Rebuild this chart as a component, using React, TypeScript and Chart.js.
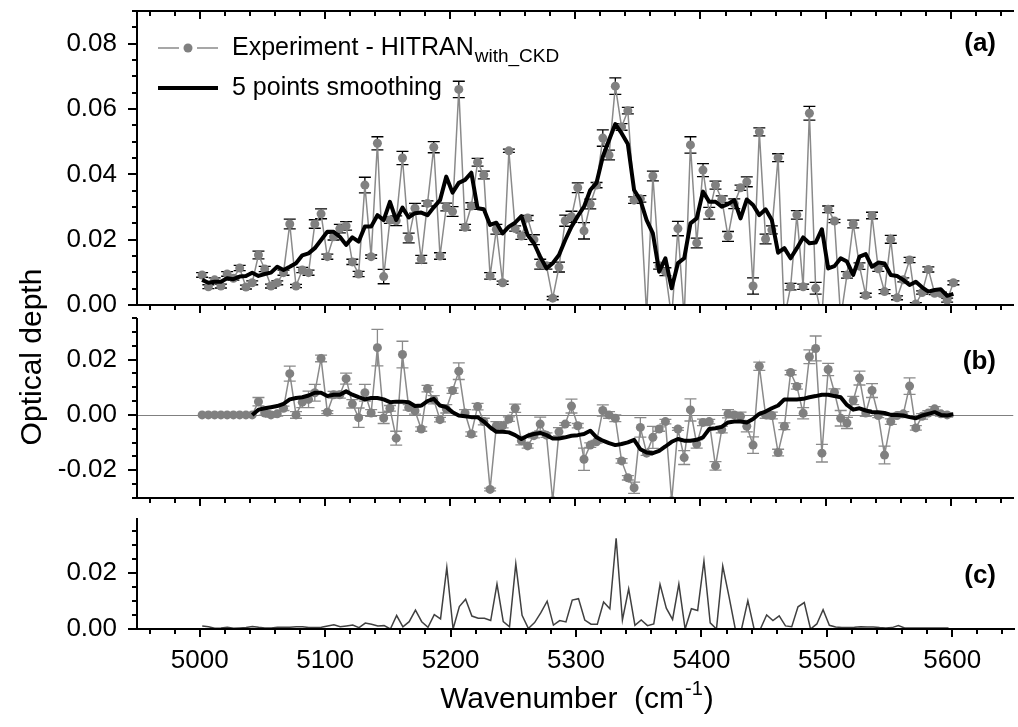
import React, { useEffect, useRef } from 'react';
import { Chart, registerables } from 'chart.js';
Chart.register(...registerables);

const FONT = "'Liberation Sans', Arial, Helvetica, sans-serif";

// ---------------- data ----------------
const WAVENUMBER = [
  5002, 5007, 5012, 5017, 5022, 5027, 5032, 5037, 5042, 5047,
  5052, 5057, 5062, 5067, 5072, 5077, 5082, 5087, 5092, 5097,
  5102, 5107, 5112, 5117, 5122, 5127, 5132, 5137, 5142, 5147,
  5152, 5157, 5162, 5167, 5172, 5177, 5182, 5187, 5192, 5197,
  5202, 5207, 5212, 5217, 5222, 5227, 5232, 5237, 5242, 5247,
  5252, 5257, 5262, 5267, 5272, 5277, 5282, 5287, 5292, 5297,
  5302, 5307, 5312, 5317, 5322, 5327, 5332, 5337, 5342, 5347,
  5352, 5357, 5362, 5367, 5372, 5377, 5382, 5387, 5392, 5397,
  5402, 5407, 5412, 5417, 5422, 5427, 5432, 5437, 5442, 5447,
  5452, 5457, 5462, 5467, 5472, 5477, 5482, 5487, 5492, 5497,
  5502, 5507, 5512, 5517, 5522, 5527, 5532, 5537, 5542, 5547,
  5552, 5557, 5562, 5567, 5572, 5577, 5582, 5587, 5592, 5597,
  5602,
];

// (a) Experiment - HITRAN_with_CKD
const A_EXPERIMENT = [
  0.0092, 0.0056, 0.0077, 0.0058, 0.0095, 0.0082, 0.0113, 0.0055, 0.0068, 0.0153,
  0.0110, 0.0058, 0.0068, 0.0099, 0.0248, 0.0058, 0.0107, 0.0099, 0.0248, 0.0279,
  0.0148, 0.0209, 0.0234, 0.0242, 0.0132, 0.0095, 0.0367, 0.0148, 0.0495, 0.0087,
  0.0260, 0.0258, 0.0450, 0.0205, 0.0296, 0.0140, 0.0311, 0.0483, 0.0150, 0.0300,
  0.0286, 0.0660, 0.0238, 0.0303, 0.0437, 0.0398, 0.0089, 0.0232, 0.0068, 0.0472,
  0.0234, 0.0211, 0.0266, 0.0200, 0.0125, 0.0120, 0.0021, 0.0116, 0.0258, 0.0270,
  0.0359, 0.0227, 0.0309, 0.0367, 0.0511, 0.0459, 0.0670, 0.0545, 0.0595, 0.0321,
  0.0325, -0.0030, 0.0395, 0.0120, 0.0102, -0.0040, 0.0234, -0.0040, 0.0490, 0.0190,
  0.0413, 0.0281, 0.0367, 0.0324, 0.0210, 0.0310, 0.0359, 0.0377, 0.0058, 0.0530,
  0.0202, 0.0230, 0.0451, -0.0040, 0.0056, 0.0276, 0.0056, 0.0587, 0.0051, -0.0040,
  0.0293, 0.0257, -0.0040, 0.0092, 0.0248, 0.0119, 0.0030, 0.0274, 0.0111, 0.0041,
  0.0201, 0.0022, 0.0077, 0.0138, 0.0003, 0.0038, 0.0109, 0.0036, 0.0035, 0.0015,
  0.0068,
];
const A_ERROR = [
  0.0007, 0.0006, 0.0006, 0.0006, 0.0007, 0.0006, 0.0008, 0.0006, 0.0006, 0.0012,
  0.0008, 0.0006, 0.0006, 0.0008, 0.0015, 0.0005, 0.0008, 0.0008, 0.0013, 0.0015,
  0.0008, 0.0010, 0.0013, 0.0013, 0.0008, 0.0008, 0.0024, 0.0005, 0.0020, 0.0022,
  0.0010, 0.0015, 0.0020, 0.0015, 0.0015, 0.0012, 0.0008, 0.0017, 0.0010, 0.0012,
  0.0015, 0.0025, 0.0009, 0.0010, 0.0012, 0.0012, 0.0010, 0.0015, 0.0005, 0.0005,
  0.0008, 0.0010, 0.0008, 0.0015, 0.0015, 0.0010, 0.0005, 0.0015, 0.0017, 0.0017,
  0.0015, 0.0025, 0.0015, 0.0008, 0.0025, 0.0015, 0.0025, 0.0010, 0.0010, 0.0010,
  0.0010, 0.0005, 0.0015, 0.0010, 0.0012, 0.0005, 0.0022, 0.0005, 0.0025, 0.0015,
  0.0020, 0.0018, 0.0012, 0.0010, 0.0015, 0.0015, 0.0008, 0.0015, 0.0025, 0.0012,
  0.0015, 0.0012, 0.0012, 0.0005, 0.0010, 0.0013, 0.0008, 0.0021, 0.0018, 0.0005,
  0.0010, 0.0005, 0.0005, 0.0010, 0.0012, 0.0010, 0.0006, 0.0010, 0.0008, 0.0006,
  0.0012, 0.0006, 0.0006, 0.0008, 0.0004, 0.0005, 0.0008, 0.0004, 0.0004, 0.0006,
  0.0006,
];
// (a) 5 points smoothing
const A_SMOOTH = [
  0.0077, 0.0068, 0.0071, 0.0071, 0.0082, 0.0079, 0.0087, 0.0089, 0.0099, 0.0089,
  0.0095, 0.0099, 0.0117, 0.0107, 0.0117, 0.0128, 0.0152, 0.0158, 0.0174, 0.0199,
  0.0224, 0.0224, 0.0209, 0.0184, 0.0207, 0.0194, 0.0240, 0.0240, 0.0275, 0.0260,
  0.0316, 0.0260, 0.0298, 0.0268, 0.0281, 0.0283, 0.0275, 0.0299, 0.0321, 0.0393,
  0.0344, 0.0374, 0.0383, 0.0405, 0.0296, 0.0293, 0.0245, 0.0252, 0.0219, 0.0240,
  0.0252, 0.0272, 0.0214, 0.0189, 0.0148, 0.0112, 0.0128, 0.0153, 0.0199, 0.0240,
  0.0272, 0.0301, 0.0352, 0.0374, 0.0454, 0.0505, 0.0554, 0.0526, 0.0493, 0.0352,
  0.0321, 0.0260, 0.0219, 0.0102, 0.0143, 0.0051, 0.0128, 0.0143, 0.0250, 0.0265,
  0.0347, 0.0316, 0.0316, 0.0301, 0.0309, 0.0321, 0.0265, 0.0323, 0.0306, 0.0275,
  0.0293, 0.0260, 0.0160, 0.0174, 0.0143, 0.0174, 0.0207, 0.0189, 0.0191, 0.0232,
  0.0112, 0.0119, 0.0143, 0.0133, 0.0092, 0.0148, 0.0156, 0.0117, 0.0130, 0.0127,
  0.0092, 0.0089, 0.0077, 0.0061, 0.0071, 0.0054, 0.0041, 0.0046, 0.0048, 0.0028,
  0.0034,
];

// (b)
const B_EXPERIMENT = [
  0, 0, 0, 0, 0, 0, 0, 0, 0, 0.0048,
  0.0007, 0.0000, 0.0004, 0.0024, 0.0149, 0.0000, 0.0046, 0.0056, 0.0080, 0.0204,
  0.0010, 0.0073, 0.0073, 0.0131, 0.0040, -0.0010, 0.0080, 0.0007, 0.0243, -0.0011,
  0.0024, -0.0084, 0.0218, 0.0027, 0.0015, -0.0051, 0.0095, 0.0055, -0.0017, 0.0022,
  0.0088, 0.0158, 0.0007, -0.0069, 0.0030, -0.0024, -0.0269, -0.0039, -0.0039, -0.0015,
  0.0024, -0.0093, -0.0112, -0.0075, -0.0033, -0.0073, -0.0310, -0.0061, -0.0033, 0.0032,
  -0.0039, -0.0160, -0.0109, -0.0097, 0.0016, 0.0000, -0.0012, -0.0166, -0.0227, -0.0263,
  -0.0045, -0.0138, -0.0081, -0.0051, -0.0024, -0.0310, -0.0051, -0.0154, 0.0018, -0.0105,
  -0.0027, -0.0024, -0.0184, -0.0053, 0.0004, 0.0000, -0.0005, -0.0041, -0.0109, 0.0176,
  0.0000, -0.0002, -0.0136, -0.0041, 0.0153, 0.0103, 0.0006, 0.0210, 0.0240, -0.0138,
  0.0164, 0.0082, -0.0012, -0.0029, 0.0052, 0.0133, 0.0007, 0.0088, -0.0002, -0.0145,
  -0.0024, -0.0002, 0.0004, 0.0104, -0.0047, -0.0005, 0.0007, 0.0022, 0.0004, 0.0000,
  null,
];
const B_ERROR = [
  0, 0, 0, 0, 0, 0, 0, 0, 0, 0.0015,
  0.0008, 0.0008, 0.0008, 0.0008, 0.0027, 0.0012, 0.0020, 0.0030, 0.0030, 0.0012,
  0.0005, 0.0012, 0.0012, 0.0020, 0.0015, 0.0035, 0.0030, 0.0012, 0.0066, 0.0020,
  0.0010, 0.0025, 0.0048, 0.0010, 0.0012, 0.0008, 0.0012, 0.0015, 0.0008, 0.0015,
  0.0010, 0.0030, 0.0012, 0.0008, 0.0012, 0.0012, 0.0005, 0.0015, 0.0008, 0.0008,
  0.0015, 0.0015, 0.0008, 0.0008, 0.0025, 0.0008, 0.0005, 0.0015, 0.0005, 0.0025,
  0.0008, 0.0040, 0.0008, 0.0005, 0.0020, 0.0012, 0.0012, 0.0008, 0.0008, 0.0020,
  0.0035, 0.0008, 0.0040, 0.0008, 0.0008, 0.0005, 0.0005, 0.0025, 0.0040, 0.0015,
  0.0012, 0.0008, 0.0015, 0.0012, 0.0015, 0.0008, 0.0015, 0.0020, 0.0030, 0.0015,
  0.0012, 0.0012, 0.0012, 0.0012, 0.0008, 0.0010, 0.0020, 0.0025, 0.0045, 0.0032,
  0.0022, 0.0012, 0.0028, 0.0020, 0.0015, 0.0025, 0.0012, 0.0025, 0.0008, 0.0032,
  0.0010, 0.0008, 0.0008, 0.0030, 0.0008, 0.0010, 0.0008, 0.0008, 0.0008, 0.0008,
  0,
];
const B_SMOOTH = [
  null, null, null, null, null, null, null, null, 0.0000, 0.0019,
  0.0024, 0.0028, 0.0032, 0.0040, 0.0056, 0.0061, 0.0064, 0.0070, 0.0080, 0.0080,
  0.0068, 0.0073, 0.0073, 0.0085, 0.0073, 0.0064, 0.0056, 0.0061, 0.0061, 0.0056,
  0.0046, 0.0048, 0.0048, 0.0046, 0.0032, 0.0034, 0.0050, 0.0058, 0.0034, 0.0028,
  0.0010, -0.0002, -0.0005, -0.0008, -0.0008, -0.0024, -0.0045, -0.0061, -0.0061, -0.0063,
  -0.0073, -0.0087, -0.0075, -0.0069, -0.0065, -0.0073, -0.0085, -0.0085, -0.0081, -0.0075,
  -0.0073, -0.0069, -0.0057, -0.0081, -0.0093, -0.0102, -0.0109, -0.0105, -0.0099, -0.0090,
  -0.0124, -0.0136, -0.0138, -0.0130, -0.0114, -0.0097, -0.0087, -0.0093, -0.0093, -0.0090,
  -0.0081, -0.0051, -0.0048, -0.0043, -0.0027, -0.0024, -0.0024, -0.0027, -0.0015, 0.0004,
  0.0012, 0.0024, 0.0034, 0.0056, 0.0056, 0.0056, 0.0058, 0.0064, 0.0068, 0.0073,
  0.0073, 0.0068, 0.0064, 0.0036, 0.0019, 0.0024, 0.0016, 0.0010, 0.0010, 0.0007,
  0.0000, 0.0000, -0.0002, -0.0008, -0.0012, -0.0002, 0.0004, 0.0010, 0.0000, -0.0002,
  0.0002,
];

// (c)
const C_DIFFERENCE = [
  0.0011, 0.0008, 0.0003, 0.0004, 0.0006, 0.0003, 0.0004, 0.0005, 0.0009, 0.0006,
  0.0004, 0.0004, 0.0006, 0.0006, 0.0006, 0.0008, 0.0008, 0.0005, 0.0005, 0.0006,
  0.0011, 0.0015, 0.0008, 0.0011, 0.0014, 0.0005, 0.0021, 0.0017, 0.0011, 0.0012,
  0.0000, 0.0048, 0.0008, 0.0026, 0.0067, 0.0026, 0.0006, 0.0051, 0.0036, 0.0219,
  0.0000, 0.0080, 0.0106, 0.0046, 0.0038, 0.0038, 0.0030, 0.0160, 0.0026, 0.0008,
  0.0232, 0.0049, 0.0002, 0.0023, 0.0058, 0.0099, 0.0014, 0.0030, 0.0025, 0.0103,
  0.0108, 0.0032, 0.0017, 0.0017, 0.0096, 0.0072, 0.0323, 0.0032, 0.0143, 0.0013,
  0.0032, 0.0012, 0.0018, 0.0159, 0.0074, 0.0034, 0.0160, 0.0000, 0.0072, 0.0066,
  0.0242, 0.0022, 0.0000, 0.0224, 0.0115, 0.0000, 0.0000, 0.0101, 0.0000, 0.0000,
  0.0050, 0.0030, 0.0047, 0.0011, 0.0008, 0.0079, 0.0094, 0.0000, 0.0018, 0.0069,
  0.0013, 0.0007, 0.0005, 0.0005, 0.0006, 0.0008, 0.0007, 0.0007, 0.0005, 0.0004,
  0.0005, 0.0012, 0.0004, 0.0004, 0.0004, 0.0004, 0.0004, 0.0004, 0.0004, 0.0004,
  null,
];

const X_MIN = 4950;
const X_MAX = 5650;
const X_TICKS = [5000, 5100, 5200, 5300, 5400, 5500, 5600];
const A_Y_TICKS = [0, 0.02, 0.04, 0.06, 0.08];
const B_Y_TICKS = [-0.02, 0, 0.02];
const C_Y_TICKS = [0, 0.02];

// ---------------- layout ----------------
const W = 1018;
const H = 727;
const PLOT_LEFT = 137;
const PLOT_RIGHT = 1015;
const XAXIS_H = 98;
const GRAY = '#808080';
const TICK_FONT = 26;

const pts = (ys: (number | null)[]) => WAVENUMBER.map((x, i) => ({ x, y: ys[i] ?? null }));

type Panel = {
  top: number;
  bottom: number;
  yMin: number;
  yMax: number;
  yTicks: number[];
  minorFrom: number;
  minorTo: number;
  showX: boolean;
  topAxis: boolean;
  label: string;
  labelY: number;
  datasets: any[];
  errValues?: (number | null)[];
  err?: number[];
  errColor?: string;
  zeroLine?: boolean;
  extra?: (chart: any) => void;
};

function drawLegendA(chart: any) {
  const ctx = chart.ctx as CanvasRenderingContext2D;
  ctx.save();
  // row 1
  const y1 = 48;
  ctx.strokeStyle = '#8a8a8a';
  ctx.lineWidth = 1.5;
  ctx.beginPath();
  ctx.moveTo(158, y1); ctx.lineTo(179, y1);
  ctx.moveTo(197, y1); ctx.lineTo(218, y1);
  ctx.stroke();
  ctx.fillStyle = GRAY;
  ctx.beginPath();
  ctx.arc(188, y1, 4.5, 0, Math.PI * 2);
  ctx.fill();
  ctx.fillStyle = '#000';
  ctx.textBaseline = 'middle';
  ctx.textAlign = 'left';
  ctx.font = `25px ${FONT}`;
  const t1 = 'Experiment - HITRAN';
  ctx.fillText(t1, 232, y1);
  const w1 = ctx.measureText(t1).width;
  ctx.font = `19px ${FONT}`;
  ctx.fillText('with_CKD', 232 + w1 + 1, y1 + 9);
  // row 2
  const y2 = 88;
  ctx.strokeStyle = '#000';
  ctx.lineWidth = 4;
  ctx.beginPath();
  ctx.moveTo(158, y2); ctx.lineTo(218, y2);
  ctx.stroke();
  ctx.font = `25px ${FONT}`;
  ctx.fillText('5 points smoothing', 232, y2);
  // y-axis title
  ctx.save();
  ctx.translate(33, 357);
  ctx.rotate(-Math.PI / 2);
  ctx.font = `30px ${FONT}`;
  ctx.textAlign = 'center';
  ctx.textBaseline = 'middle';
  ctx.fillText('Optical depth', 0, 0);
  ctx.restore();
  ctx.restore();
}

function drawXTitle(chart: any) {
  const ctx = chart.ctx as CanvasRenderingContext2D;
  const xs = chart.scales.x;
  ctx.save();
  ctx.fillStyle = '#000';
  ctx.textBaseline = 'alphabetic';
  ctx.textAlign = 'left';
  const main = 'Wavenumber  (cm';
  const sup = '-1';
  const close = ')';
  ctx.font = `30px ${FONT}`;
  const wm = ctx.measureText(main).width;
  const wc = ctx.measureText(close).width;
  ctx.font = `20px ${FONT}`;
  const ws = ctx.measureText(sup).width;
  const cx = (xs.left + xs.right) / 2;
  const x0 = cx - (wm + ws + wc) / 2;
  const base = 708;
  ctx.font = `30px ${FONT}`;
  ctx.fillText(main, x0, base);
  ctx.font = `20px ${FONT}`;
  ctx.fillText(sup, x0 + wm + 1, base - 13);
  ctx.font = `30px ${FONT}`;
  ctx.fillText(close, x0 + wm + ws + 2, base);
  ctx.restore();
}

function makePlugin(p: Panel) {
  return {
    id: 'panelDecor',
    beforeDatasetsDraw(chart: any) {
      const ctx = chart.ctx as CanvasRenderingContext2D;
      const a = chart.chartArea;
      const xs = chart.scales.x;
      const ys = chart.scales.y;
      ctx.save();
      ctx.beginPath();
      ctx.rect(a.left, a.top, a.right - a.left, a.bottom - a.top);
      ctx.clip();
      if (p.zeroLine) {
        const py = Math.round(ys.getPixelForValue(0)) + 0.5;
        ctx.strokeStyle = GRAY;
        ctx.lineWidth = 1;
        ctx.beginPath();
        ctx.moveTo(a.left, py);
        ctx.lineTo(a.right, py);
        ctx.stroke();
      }
      if (p.err && p.errValues) {
        ctx.strokeStyle = p.errColor || '#000';
        ctx.lineWidth = 1.3;
        ctx.beginPath();
        p.errValues.forEach((v, i) => {
          const e = p.err![i];
          if (v == null || !e) return;
          const px = xs.getPixelForValue(WAVENUMBER[i]);
          const t = ys.getPixelForValue(v + e);
          const b = ys.getPixelForValue(v - e);
          ctx.moveTo(px, t); ctx.lineTo(px, b);
          ctx.moveTo(px - 6, t); ctx.lineTo(px + 6, t);
          ctx.moveTo(px - 6, b); ctx.lineTo(px + 6, b);
        });
        ctx.stroke();
      }
      ctx.restore();
    },
    afterDraw(chart: any) {
      const ctx = chart.ctx as CanvasRenderingContext2D;
      const a = chart.chartArea;
      const xs = chart.scales.x;
      const ys = chart.scales.y;
      const L = Math.round(a.left);
      const R = Math.round(a.right);
      const T = Math.round(a.top);
      const B = Math.round(a.bottom);
      ctx.save();
      ctx.strokeStyle = '#000';
      ctx.lineWidth = 2;
      ctx.beginPath();
      ctx.moveTo(L, T); ctx.lineTo(L, B + 1);
      ctx.moveTo(L - 1, B); ctx.lineTo(R, B);
      if (p.topAxis) { ctx.moveTo(L - 1, T); ctx.lineTo(R, T); }
      for (let k = 248; k <= 282; k++) {
        const px = Math.round(xs.getPixelForValue(k * 20));
        const len = k % 5 === 0 ? 8 : 5;
        ctx.moveTo(px, B); ctx.lineTo(px, B + len);
        if (p.topAxis) { ctx.moveTo(px, T); ctx.lineTo(px, T + len); }
      }
      for (let k = p.minorFrom; k <= p.minorTo; k++) {
        const py = Math.round(ys.getPixelForValue(k * 0.005));
        const len = k % 4 === 0 ? 9 : 5;
        ctx.moveTo(L - len, py); ctx.lineTo(L, py);
      }
      ctx.stroke();
      // panel label
      ctx.fillStyle = '#000';
      ctx.font = `bold 26px ${FONT}`;
      ctx.textAlign = 'right';
      ctx.textBaseline = 'middle';
      ctx.fillText(p.label, 996, p.labelY);
      ctx.restore();
      if (p.extra) p.extra(chart);
    },
  };
}

function buildChart(canvas: HTMLCanvasElement, p: Panel) {
  const padBottom = p.showX ? H - p.bottom - XAXIS_H : H - p.bottom;
  return new Chart(canvas, {
    type: 'line',
    data: { datasets: p.datasets },
    options: {
      responsive: false,
      animation: false,
      events: [],
      layout: { padding: { left: 0, right: W - PLOT_RIGHT, top: p.top, bottom: padBottom } },
      plugins: { legend: { display: false }, tooltip: { enabled: false }, title: { display: false } },
      scales: {
        x: {
          type: 'linear',
          min: X_MIN,
          max: X_MAX,
          display: p.showX,
          grid: { display: false, drawTicks: false },
          border: { display: false },
          afterBuildTicks: (s: any) => { s.ticks = X_TICKS.map((v) => ({ value: v })); },
          afterFit: (s: any) => {
            s.height = p.showX ? XAXIS_H : 0;
            s.paddingLeft = 0;
            s.paddingRight = 0;
          },
          ticks: {
            font: { family: FONT, size: TICK_FONT },
            color: '#000',
            padding: 16,
            maxRotation: 0,
            autoSkip: false,
            callback: (v: any) => String(v),
          },
        },
        y: {
          type: 'linear',
          min: p.yMin,
          max: p.yMax,
          grid: { display: false, drawTicks: false },
          border: { display: false },
          afterBuildTicks: (s: any) => { s.ticks = p.yTicks.map((v) => ({ value: v })); },
          afterFit: (s: any) => { s.width = PLOT_LEFT; s.paddingTop = 0; s.paddingBottom = 0; },
          ticks: {
            font: { family: FONT, size: TICK_FONT },
            color: '#000',
            padding: 20,
            autoSkip: false,
            callback: (v: any) => Number(v).toFixed(2),
          },
        },
      },
    } as any,
    plugins: [makePlugin(p) as any],
  });
}

const expStyle = {
  borderColor: '#8a8a8a',
  borderWidth: 1.5,
  pointRadius: 4.5,
  pointBackgroundColor: GRAY,
  pointBorderWidth: 0,
  tension: 0,
  order: 1,
};
const smoothStyle = {
  borderColor: '#000',
  borderWidth: 4,
  pointRadius: 0,
  tension: 0,
  borderJoinStyle: 'round',
  order: 0,
};

const PANEL_A: Panel = {
  top: 11, bottom: 305, yMin: 0, yMax: 0.09, yTicks: A_Y_TICKS, minorFrom: 0, minorTo: 18,
  showX: false, topAxis: true, label: '(a)', labelY: 44,
  datasets: [
    { label: '5 points smoothing', data: pts(A_SMOOTH), ...smoothStyle },
    { label: 'Experiment - HITRAN_with_CKD', data: pts(A_EXPERIMENT), ...expStyle },
  ],
  errValues: A_EXPERIMENT, err: A_ERROR, errColor: '#000',
  extra: drawLegendA,
};
const PANEL_B: Panel = {
  top: 318, bottom: 498, yMin: -0.03, yMax: 0.035, yTicks: B_Y_TICKS, minorFrom: -6, minorTo: 7,
  showX: false, topAxis: false, label: '(b)', labelY: 362,
  datasets: [
    { label: 'smoothing', data: pts(B_SMOOTH), ...smoothStyle },
    { label: 'residual', data: pts(B_EXPERIMENT), ...expStyle },
  ],
  errValues: B_EXPERIMENT, err: B_ERROR, errColor: '#8a8a8a',
  zeroLine: true,
};
const PANEL_C: Panel = {
  top: 518, bottom: 629, yMin: 0, yMax: 0.0395, yTicks: C_Y_TICKS, minorFrom: 0, minorTo: 7,
  showX: true, topAxis: false, label: '(c)', labelY: 576,
  datasets: [
    { label: 'difference', data: pts(C_DIFFERENCE), borderColor: '#404040', borderWidth: 1.5, pointRadius: 0, tension: 0 },
  ],
  extra: drawXTitle,
};

export default function App() {
  const refA = useRef<HTMLCanvasElement>(null);
  const refB = useRef<HTMLCanvasElement>(null);
  const refC = useRef<HTMLCanvasElement>(null);
  useEffect(() => {
    const charts = [
      buildChart(refA.current!, PANEL_A),
      buildChart(refB.current!, PANEL_B),
      buildChart(refC.current!, PANEL_C),
    ];
    return () => charts.forEach((c) => c.destroy());
  }, []);
  const cs: React.CSSProperties = { position: 'absolute', left: 0, top: 0, width: W, height: H };
  return (
    <div style={{ position: 'absolute', left: 0, top: 0, width: W, height: H, background: '#fff', overflow: 'hidden' }}>
      <canvas ref={refA} width={W} height={H} style={cs} />
      <canvas ref={refB} width={W} height={H} style={cs} />
      <canvas ref={refC} width={W} height={H} style={cs} />
    </div>
  );
}
